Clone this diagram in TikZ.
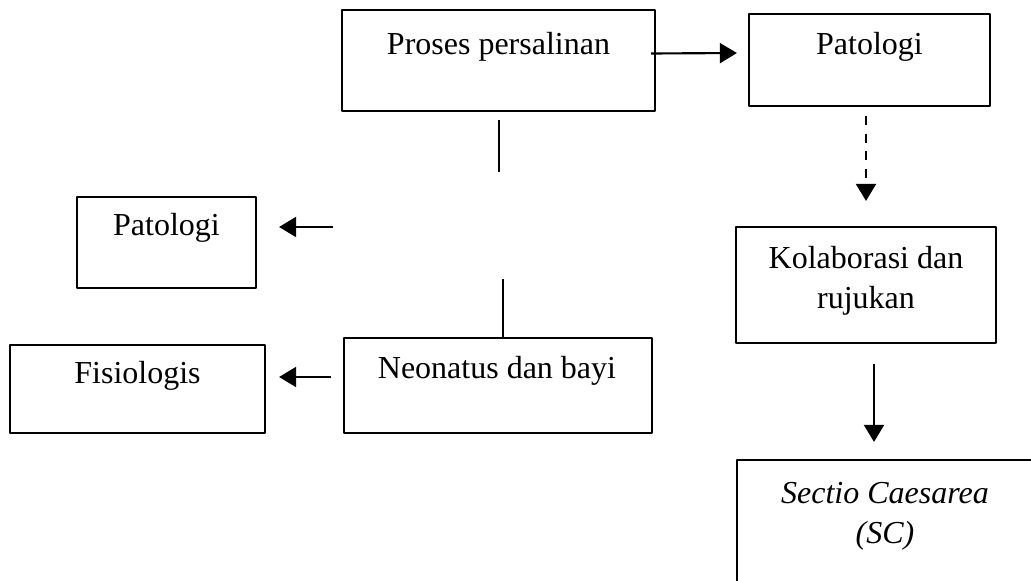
\documentclass[tikz,border=0pt]{standalone}
\usepackage{fontspec}
\setmainfont{Liberation Serif}
\usetikzlibrary{arrows.meta}
\newcommand{\pxu}{0.375pt}
\tikzset{
	box/.style={draw, rectangle, inner sep=0pt},
	lbl/.style={anchor=base, align=center, inner sep=0pt},
	arr/.style={-{Triangle[length=6.4pt,width=7.5pt]}},
}
\begin{document}
\begin{tikzpicture}[x=\pxu, y=-\pxu, font=\fontsize{12}{15}\selectfont, line width=0.8pt, line join=round]
			\clip (0,0) rectangle (1031,581);
			\fill[white] (0,0) rectangle (1031,581);
			% boxes
			\foreach \n/\cx/\cy/\w/\h in {
				proses/498.5/60.5/313/101, patB/869.5/60/241/92,
				patL/166.5/242.5/179/91, fisio/137.5/389/255/88,
				neo/498/385.5/308/95, kolab/866/285/260/116,
				sc/885/540/296/160}
			{
				\node[box, minimum width=\w*\pxu, minimum height=\h*\pxu] (\n) at (\cx,\cy) {};
			}
			% texts
			\foreach \n/\cx/\by/\t in {
				proses/498.5/55/Proses persalinan, patB/869.5/55/Patologi,
				patL/166.5/235/Patologi, fisio/137.5/383/Fisiologis,
				neo/497/378/Neonatus dan bayi}
			{
				\node[lbl] (t\n) at (\cx,\by) {\t};
			}
			\node[lbl] (tkolab) at (866,308) {Kolaborasi dan\\rujukan};
			\node[lbl, font=\fontsize{12}{15}\selectfont\itshape] (tsc) at (885,543) {Sectio Caesarea\\(SC)};
			% connectors
			\draw[arr] ([shift={(-5,-7)}]proses.east) -- ([shift={(-11,-7)}]patB.west);
			\draw[arr, dash pattern=on 3.4pt off 3.2pt] ([shift={(-3.5,9)}]patB.south) -- ([shift={(0,-25)}]kolab.north);
			\draw[arr] ([shift={(8,20)}]kolab.south) -- ([shift={(-11,-17)}]sc.north);
			\coordinate (stemA) at ([shift={(0.5,60)}]proses.south);
			\draw ([shift={(0.5,8)}]proses.south) -- (stemA);
			\coordinate (stemB) at ([shift={(5,-58)}]neo.north);
			\draw ([shift={(5,0)}]neo.north) -- (stemB);
			\coordinate (tailL) at ([shift={(76,-15.5)}]patL.east);
			\draw[arr] (tailL) -- ([shift={(22,-15.5)}]patL.east);
			\draw[arr] ([shift={(-12,-8.5)}]neo.west) -- ([shift={(13,-12)}]fisio.east);
		\end{tikzpicture}
\end{document}
